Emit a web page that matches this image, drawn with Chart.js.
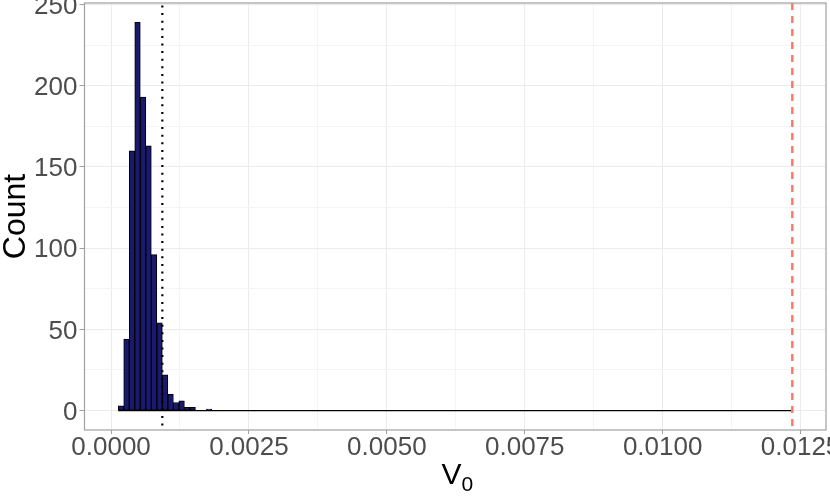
<!DOCTYPE html>
<html lang="en">
<head>
    <meta charset="UTF-8">
    <title>V0 histogram</title>
    <script src="https://cdn.jsdelivr.net/npm/chart.js"></script>
    <style>
        body {
            margin: 0;
            background: #ffffff;
        }

        .chart-container {
            width: 830px;
            height: 503px;
        }
    </style>
</head>
<body>
<div class="chart-container">
    <canvas id="histChart"></canvas>
</div>

<script>
    // histogram bins (width 0.0001), counts
    const binStart = 0.00013;
    const binWidth = 0.0001;
    const counts = [3, 44, 160, 239, 193, 163, 96, 54, 22, 10, 5, 6, 2, 2, 0, 0, 1];
    // empty bins keep going up to this edge (drawn as the flat black outline)
    const lastBinEdge = 0.01233;

    // reference lines
    const dottedLineX = 0.00093;
    const dashedLineX = 0.01235;

    // axes
    const xTicks = [0, 0.0025, 0.005, 0.0075, 0.01, 0.0125];
    const xTickLabels = ["0.0000", "0.0025", "0.0050", "0.0075", "0.0100", "0.0125"];
    const yTicks = [0, 50, 100, 150, 200, 250];
    const yTickLabels = ["0", "50", "100", "150", "200", "250"];
    const xTitle = "V";
    const xTitleSub = "0";
    const yTitle = "Count";

    const fontFamily = "'Liberation Sans', Arial, sans-serif";

    const barData = counts.map((c, i) => ({x: binStart + (i + 0.5) * binWidth, y: c}));
    const baseData = [{x: binStart, y: 0}, {x: lastBinEdge, y: 0}];

    // ggplot-like expansion of 5% on each side
    const xMin = binStart - 0.05 * (dashedLineX - binStart);
    const xMax = dashedLineX + 0.05 * (dashedLineX - binStart);
    const yMax = Math.max(...counts);
    const yLo = -0.05 * yMax;
    const yHi = yMax * 1.05;

    function withMinors(major) {
        const out = [];
        for (let i = 0; i < major.length; i++) {
            out.push(major[i]);
            if (i < major.length - 1) out.push((major[i] + major[i + 1]) / 2);
        }
        return out;
    }

    function isMajor(list, v) {
        return list.some(t => Math.abs(t - v) < 1e-9);
    }

    function label(ctx, text, x, y, size, align) {
        ctx.font = size + "px " + fontFamily;
        ctx.textAlign = align;
        ctx.textBaseline = 'alphabetic';
        ctx.fillText(text, x, y);
    }

    const overlay = {
        id: 'overlay',
        afterDatasetsDraw(chart) {
            const {ctx, chartArea, scales} = chart;
            ctx.save();
            // dotted black line
            let px = scales.x.getPixelForValue(dottedLineX);
            ctx.strokeStyle = '#000000';
            ctx.lineWidth = 2.2;
            ctx.setLineDash([2, 5.6]);
            ctx.beginPath();
            ctx.moveTo(px, chartArea.top + 2.5);
            ctx.lineTo(px, chartArea.bottom);
            ctx.stroke();
            // dashed red line
            px = scales.x.getPixelForValue(dashedLineX);
            ctx.strokeStyle = '#fa7763';
            ctx.lineWidth = 2.4;
            ctx.setLineDash([7, 6]);
            ctx.beginPath();
            ctx.moveTo(px, chartArea.top);
            ctx.lineTo(px, chartArea.bottom);
            ctx.stroke();
            ctx.restore();
        },
        afterDraw(chart) {
            const {ctx, chartArea, scales} = chart;
            ctx.save();
            // panel border
            ctx.strokeStyle = '#a0a0a0';
            ctx.lineWidth = 1.2;
            ctx.strokeRect(chartArea.left, chartArea.top, chartArea.right - chartArea.left, chartArea.bottom - chartArea.top);

            // tick labels
            ctx.fillStyle = '#4d4d4d';
            xTicks.forEach((v, i) => {
                label(ctx, xTickLabels[i], scales.x.getPixelForValue(v), 454.5, 26, 'center');
            });
            yTicks.forEach((v, i) => {
                label(ctx, yTickLabels[i], 77.5, scales.y.getPixelForValue(v) + 9.3, 26, 'right');
            });

            // x title with subscript
            ctx.fillStyle = '#000000';
            ctx.font = "30px " + fontFamily;
            const wV = ctx.measureText(xTitle).width;
            ctx.font = "21px " + fontFamily;
            const wS = ctx.measureText(xTitleSub).width;
            const x0 = (chartArea.left + chartArea.right) / 2 - (wV + wS) / 2 + 2;
            label(ctx, xTitle, x0, 483.5, 30, 'left');
            label(ctx, xTitleSub, x0 + wV, 490.5, 21, 'left');

            // y title
            ctx.translate(25, (chartArea.top + chartArea.bottom) / 2);
            ctx.rotate(-Math.PI / 2);
            label(ctx, yTitle, 0, 0, 32, 'center');
            ctx.restore();
        }
    };

    new Chart(document.getElementById("histChart"), {
        type: 'bar',
        data: {
            datasets: [{
                type: 'bar',
                data: barData,
                backgroundColor: '#191970',
                borderColor: '#000000',
                borderWidth: 1,
                borderSkipped: false,
                barPercentage: 1,
                categoryPercentage: 1,
                order: 2
            }, {
                type: 'line',
                data: baseData,
                borderColor: '#000000',
                borderWidth: 1.2,
                pointRadius: 0,
                order: 1
            }]
        },
        options: {
            responsive: true,
            maintainAspectRatio: false,
            animation: false,
            layout: {padding: {top: 3, right: 4, left: 0, bottom: 0}},
            plugins: {legend: {display: false}, tooltip: {enabled: false}},
            scales: {
                x: {
                    type: 'linear',
                    min: xMin,
                    max: xMax,
                    offset: false,
                    afterBuildTicks: s => { s.ticks = withMinors(xTicks).map(v => ({value: v})); },
                    afterFit: s => { s.height = 73; s.paddingLeft = 0; s.paddingRight = 0; },
                    border: {display: false},
                    grid: {
                        offset: false,
                        color: c => isMajor(xTicks, c.tick.value) ? '#ebebeb' : '#f4f4f4',
                        lineWidth: 1,
                        tickLength: 4,
                        tickColor: c => isMajor(xTicks, c.tick.value) ? '#a0a0a0' : 'rgba(0,0,0,0)'
                    },
                    ticks: {display: false}
                },
                y: {
                    type: 'linear',
                    min: yLo,
                    max: yHi,
                    afterBuildTicks: s => { s.ticks = withMinors(yTicks).map(v => ({value: v})); },
                    afterFit: s => { s.width = 84.5; s.paddingTop = 0; s.paddingBottom = 0; },
                    border: {display: false},
                    grid: {
                        color: c => isMajor(yTicks, c.tick.value) ? '#ebebeb' : '#f4f4f4',
                        lineWidth: 1,
                        tickLength: 5,
                        tickColor: c => isMajor(yTicks, c.tick.value) ? '#a0a0a0' : 'rgba(0,0,0,0)'
                    },
                    ticks: {display: false}
                }
            }
        },
        plugins: [overlay]
    });
</script>
</body>
</html>
